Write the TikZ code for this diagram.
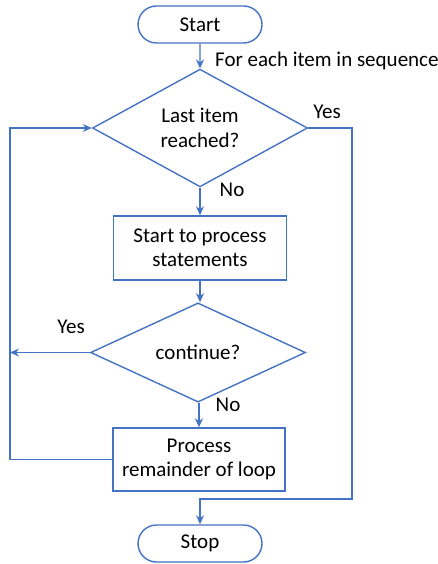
\documentclass[tikz,border=0pt]{standalone}
\usepackage{fontspec}
\setmainfont{Carlito}
\usepackage{xcolor}
\usepackage{tikz}
\usetikzlibrary{arrows.meta,shapes.geometric,shapes.misc}

\definecolor{flowblue}{RGB}{68,114,196}

\begin{document}
\begin{tikzpicture}[x=1pt, y=-1pt,
  font=\fontsize{21}{24.5}\selectfont,
  arr/.style={-{Stealth[length=9pt, width=8pt, inset=3pt]}, line width=1.4pt, flowblue},
  terminal/.style={rounded rectangle, draw=flowblue, line width=1.4pt,
    minimum width=124pt, minimum height=37pt, inner sep=0pt},
  procbox/.style={rectangle, draw=flowblue, line width=1.4pt, align=center,
    minimum width=173pt, minimum height=64pt, inner sep=0pt},
  decision/.style={diamond, draw=flowblue, line width=1.4pt, align=center,
    minimum width=215pt, inner sep=0pt}]
  \useasboundingbox (0,0) rectangle (438,564);

  % Nodes
  \node[terminal] (start) at (200,24.5) {Start};
  \node[decision, minimum height=98pt] (last) at (200,128) {Last item\\reached?};
  \node[procbox] (stmt) at (200,248) {Start to process\\statements};
  \node[decision, minimum height=69pt] (cont) at (198,352.5) {continue?};
  \node[procbox, minimum width=172pt, minimum height=63pt] (rem) at (199,459.5) {Process\\remainder of loop};
  \node[terminal] (stop) at (200,543.5) {Stop};

  % Rails for the two loops
  \coordinate (leftrail) at (10,0);
  \coordinate (rightrail) at (352,0);
  \coordinate (joinpt) at (0,499);

  % Main column
  \draw[arr] (start) -- (last);
  \draw[arr] (last) -- (stmt);
  \draw[arr] (stmt.south) -- (cont.north -| stmt.south);
  \draw[arr] (cont.south -| rem.north) -- (rem.north);

  % Loop back to the test
  \draw[arr] (rem.west) -- (rem.west -| leftrail) |- (last.west);
  \draw[arr] (cont.west) -- (cont.west -| leftrail);

  % Exit when the last item is reached
  \draw[arr] (last.east) -- (last.east -| rightrail) |- (stop.north |- joinpt) -- (stop.north);

  % Labels
  \node[anchor=west, inner sep=0pt] (lblfor) at (215,61) {For each item in sequence};
  \node (lblyes1) at (327,112) {Yes};
  \node (lblno1) at (232,190) {No};
  \node (lblyes2) at (71,327) {Yes};
  \node (lblno2) at (228,405) {No};
\end{tikzpicture}
\end{document}
